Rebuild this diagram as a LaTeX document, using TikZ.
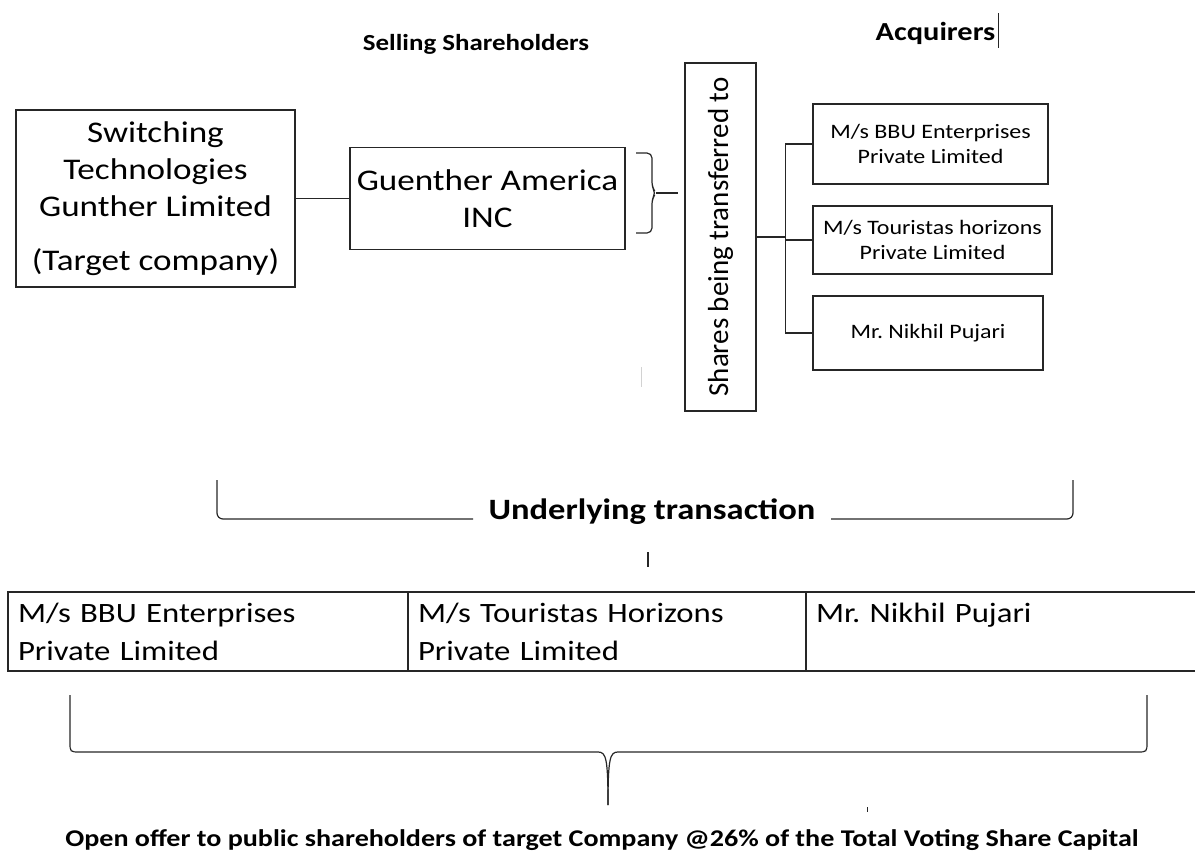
\documentclass[tikz,border=0pt]{standalone}
\usepackage{fontspec}
\setmainfont{Carlito}[FakeStretch=1.17]
\newfontfamily\uprightfont{Carlito}
\frenchspacing

\begin{document}
\begin{tikzpicture}[x=1pt,y=-1pt,
	line width=1.2pt, draw=black!85,
	headlabel/.style={font=\bfseries\fontsize{23}{27}\selectfont, inner sep=0pt},
	bigbox/.style={draw, align=center, inner sep=0pt, font=\fontsize{30}{37}\selectfont},
	smallbox/.style={draw, align=center, inner sep=0pt, font=\fontsize{20.5}{25}\selectfont},
	cell/.style={draw, outer sep=0pt, minimum height=79, inner xsep=10pt, inner ysep=0pt, text width=#1, align=left, anchor=north west, font=\fontsize{28}{38}\selectfont}]
	\useasboundingbox (0,0) rectangle (1195,854);

	% top labels
	\node[headlabel] (sellers) at (476,44) {Selling Shareholders};
	\node[headlabel, font=\bfseries\fontsize{26}{30}\selectfont] (acquirers) at (935.5,33) {Acquirers};
	\draw[line width=0.8pt] (998,13) -- (998,48);

	% selling side
	\node[bigbox, minimum width=279, minimum height=177] (target) at (155.5,198.5) {Switching\\Technologies\\Gunther Limited\\[17pt](Target company)};
	\node[bigbox, minimum width=275, minimum height=102] (guenther) at (487.5,198.5) {Guenther America\\INC};
	\draw (target) -- (guenther);

	% brace to the transfer box
	\draw[rounded corners=5] (636,153) -- (652,153) -- (652,187) -- (656,193) -- (652,199) -- (652,233) -- (636,233);
	\draw (656,193) -- (678,193);
	\node[bigbox, rotate=90, font=\uprightfont\fontsize{29}{33}\selectfont, minimum width=348, minimum height=71] (shares) at (720.5,237) {Shares being transferred to};
	\draw[gray!35, line width=1pt] (641,367) -- (641,387);

	% acquirers
	\node[smallbox, minimum width=235, minimum height=80] (bbu) at (930.5,144) {M/s BBU Enterprises\\Private Limited};
	\node[smallbox, minimum width=239, minimum height=68] (touristas) at (932.5,240) {M/s Touristas horizons\\Private Limited};
	\node[smallbox, minimum width=230, minimum height=74] (nikhil) at (928,333) {Mr. Nikhil Pujari};
	\draw[line width=2.2pt] (shares.south) -- ++(29,0) coordinate (hub);
	\draw (bbu.west) -- (bbu.west -| hub) -- (nikhil.west -| hub) -- (nikhil.west);
	\draw (touristas.west) -- (touristas.west -| hub);

	% underlying transaction
	\node[headlabel, font=\bfseries\fontsize{29.5}{35}\selectfont] (underlying) at (652,512) {Underlying transaction};
	\draw[rounded corners=6] (473,519) -- (217,519) -- (217,480);
	\draw[rounded corners=6] (831,519) -- (1073,519) -- (1073,480);
	\draw (648,552) -- (648,567);

	% open offer table
	\node[cell=380] (cellbbu) at (8,592) {M/s BBU Enterprises\\Private Limited};
	\node[cell=378] (celltour) at (cellbbu.north east) {M/s Touristas Horizons\\Private Limited};
	\node[cell=380] (cellnik) at (celltour.north east) {Mr. Nikhil Pujari\\\mbox{}};

	% brace to the open offer
	\draw (70,695) -- (70,742) .. controls (70,752) .. (80,752) -- (598,752) .. controls (606,752) and (608,758) .. (608,805);
	\draw (1147,695) -- (1147,742) .. controls (1147,752) .. (1137,752) -- (618,752) .. controls (610,752) and (608,758) .. (608,805);
	\draw[line width=1pt] (867,807) -- (867,812);
	\node[headlabel, font=\bfseries\fontsize{24}{28}\selectfont] (openoffer) at (602,840) {Open offer to public shareholders of target Company @26\% of the Total Voting Share Capital};
\end{tikzpicture}
\end{document}
